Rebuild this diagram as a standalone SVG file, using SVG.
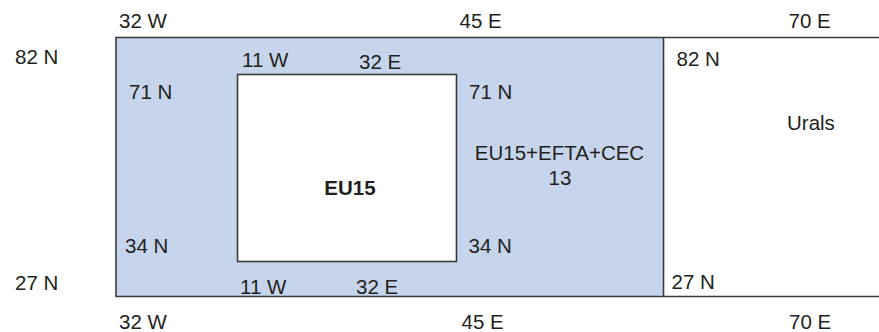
<svg xmlns="http://www.w3.org/2000/svg" width="879" height="332" viewBox="0 0 879 332">
<style>
text{font-family:"Liberation Sans",Arial,sans-serif;font-size:20.5px;fill:#231f20}
.b{font-weight:bold}
.m{text-anchor:middle}
.ln{stroke:#3a3a3a;stroke-width:1.6;fill:none}
.inner{stroke:#3a3a3a;stroke-width:1.6;fill:#fff}
</style>
<rect width="879" height="332" fill="#fff"/>
<g id="eu15-efta-cec">
<rect x="116" y="37.5" width="547.5" height="259" fill="#c6d5ec"/>
<text x="559.5" y="160" class="m">EU15+EFTA+CEC</text>
<text x="560" y="185" class="m">13</text>
</g>
<g id="eu15">
<rect x="237.5" y="74.5" width="219" height="187" class="inner"/>
<text x="350" y="195" class="m b">EU15</text>
</g>
<g id="urals">
<text x="787" y="130">Urals</text>
</g>
<g id="connectors">
<path class="ln" d="M879 37.5H116V296.5H879M663.5 37.5V296.5"/>
</g>
<g id="labels">
<text x="119" y="28">32 W</text>
<text x="459.5" y="27.5">45 E</text>
<text x="788.5" y="27.5">70 E</text>
<text x="15" y="63.5">82 N</text>
<text x="676.5" y="65.5">82 N</text>
<text x="242" y="67">11 W</text>
<text x="359" y="69">32 E</text>
<text x="129" y="98.5">71 N</text>
<text x="469" y="98.5">71 N</text>
<text x="125" y="253">34 N</text>
<text x="468.5" y="253">34 N</text>
<text x="15" y="290">27 N</text>
<text x="671.5" y="288.5">27 N</text>
<text x="240" y="294">11 W</text>
<text x="356" y="294">32 E</text>
<text x="119" y="329">32 W</text>
<text x="461.5" y="329">45 E</text>
<text x="789" y="329">70 E</text>
</g>
</svg>
